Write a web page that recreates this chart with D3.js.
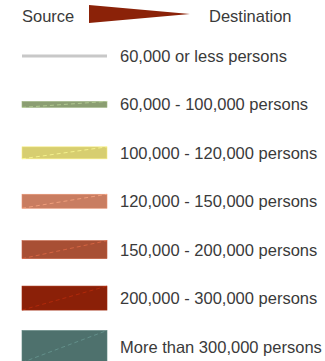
<!DOCTYPE html>
<html><head><meta charset="utf-8">
<script src="https://cdn.jsdelivr.net/npm/d3@7"></script>
<style>body{margin:0;background:#fff}svg{display:block}</style>
</head><body>
<script>
const headerLabels = ["Source", "Destination"];
const categories = [
  "60,000 or less persons",
  "60,000 - 100,000 persons",
  "100,000 - 120,000 persons",
  "120,000 - 150,000 persons",
  "150,000 - 200,000 persons",
  "200,000 - 300,000 persons",
  "More than 300,000 persons"
];
const colors = ["#c8c8c8", "#8b9e72", "#d7ce70", "#c97d61", "#a84f34", "#8b2008", "#4e716d"];
const thickness = [3, 6, 12, 14, 18, 24, 32];

const W = 325, H = 361;
const svg = d3.select("body").append("svg").attr("width", W).attr("height", H);
const font = "Arial, 'Liberation Sans', sans-serif";

// header
svg.append("text").attr("x", 22).attr("y", 22).text(headerLabels[0])
  .attr("font-family", font).attr("font-size", 16.5).attr("fill", "#3a3a3a");
svg.append("path").attr("d", "M89,5 L190,14 L89,23 Z").attr("fill", "#8b2208");
svg.append("text").attr("x", 209).attr("y", 22).text(headerLabels[1])
  .attr("font-family", font).attr("font-size", 16.5).attr("fill", "#3a3a3a");

const y = d3.scalePoint().domain(categories).range([56, 346.5]);
const th = d3.scaleOrdinal(categories, thickness);
const col = d3.scaleOrdinal(categories, colors);

const g = svg.selectAll("g.item").data(categories).join("g").attr("class", "item");
g.append("rect")
  .attr("x", 22).attr("width", 85)
  .attr("y", d => y(d) - th(d) / 2).attr("height", d => th(d))
  .attr("fill", d => col(d))
  .attr("stroke", d => d3.color(col(d)).brighter(0.4))
  .attr("stroke-width", d => th(d) > 4 ? 0.6 : 0);
g.filter(d => th(d) > 4).append("line")
  .attr("x1", 22).attr("x2", 107)
  .attr("y1", d => y(d) + th(d) / 2).attr("y2", d => y(d) - th(d) / 2)
  .attr("stroke", d => d3.color(col(d)).brighter(0.9))
  .attr("stroke-width", 0.7).attr("stroke-dasharray", "4,3");
g.append("text")
  .attr("x", 120).attr("y", d => y(d) + 6)
  .text(d => d)
  .attr("font-family", font).attr("font-size", 16.5).attr("fill", "#3a3a3a");
</script>
</body></html>
